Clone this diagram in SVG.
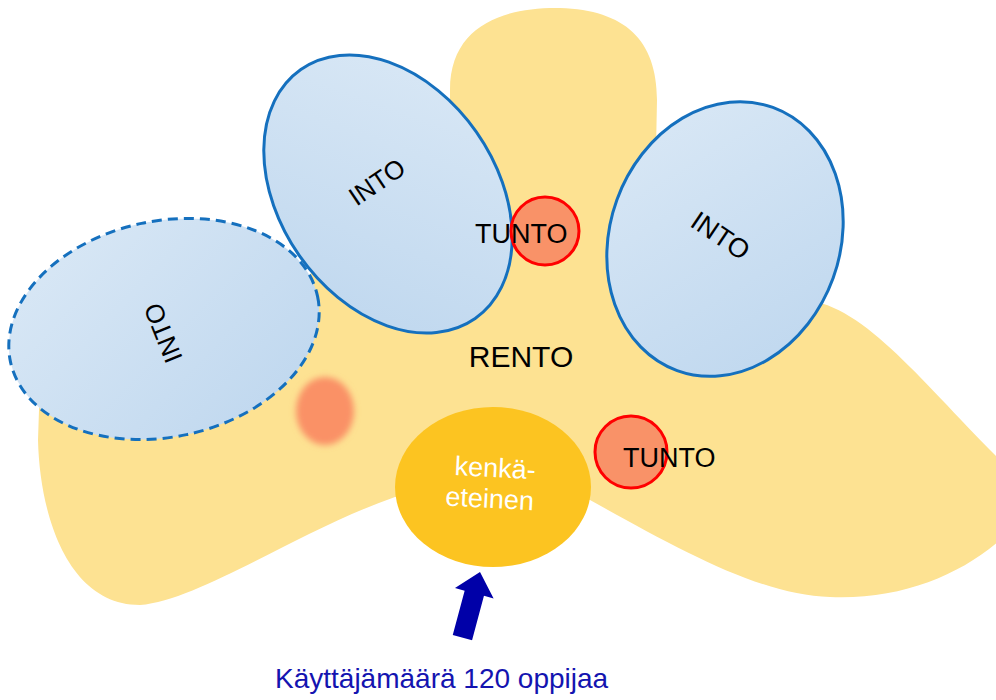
<svg xmlns="http://www.w3.org/2000/svg" width="996" height="700" viewBox="0 0 996 700">
  <defs>
    <linearGradient id="blueGrad" x1="0" y1="0" x2="1" y2="1">
      <stop offset="0" stop-color="#dbe9f6"/>
      <stop offset="1" stop-color="#bdd6ee"/>
    </linearGradient>
    <filter id="blur" x="-50%" y="-50%" width="200%" height="200%">
      <feGaussianBlur stdDeviation="3"/>
    </filter>
  </defs>
  <style>
    .into { fill: url(#blueGrad); stroke: #1570be; stroke-width: 3; }
    .dashed { stroke-dasharray: 10 6; }
    .tunto { fill: #f99268; stroke: #ff0000; stroke-width: 3; }
    .lbl { font-family: "Liberation Sans", Arial, sans-serif; fill: #000; }
    .white { font-family: "Liberation Sans", Arial, sans-serif; fill: #ffffff; }
  </style>
  <rect width="996" height="700" fill="#ffffff"/>

  <g id="rento-area">
    <path d="M 450 90 C 450 25 505 7 560 8 C 625 10 657 40 657 100 L 655 200 L 800 300 C 860 300 920 380 1000 460 L 1000 540 C 960 575 900 600 830 597 C 760 595 680 550 590 500 L 395 497 C 300 530 200 600 140 605 C 70 605 40 520 38 440 L 40 380 L 290 300 L 315 268 L 450 150 Z" fill="#fde292"/>
    <text class="lbl" x="521" y="367" font-size="30" text-anchor="middle">RENTO</text>
  </g>

  <g id="into-left">
    <ellipse class="into dashed" cx="164" cy="329" rx="157" ry="108" transform="rotate(-12 164 329)"/>
    <text class="lbl" x="163" y="342" font-size="26" text-anchor="middle" transform="rotate(-112 163 333)">INTO</text>
  </g>

  <g id="into-top">
    <ellipse class="into" cx="388" cy="194" rx="152" ry="108" transform="rotate(55 388 194)"/>
    <text class="lbl" x="377" y="191" font-size="26" text-anchor="middle" transform="rotate(-34 377 182)">INTO</text>
  </g>

  <g id="into-right">
    <ellipse class="into" cx="725" cy="239" rx="115" ry="140" transform="rotate(20 725 239)"/>
    <text class="lbl" x="721" y="245" font-size="27" text-anchor="middle" transform="rotate(34 721 235)">INTO</text>
  </g>

  <g id="tunto-top">
    <circle class="tunto" cx="545" cy="231" r="34"/>
    <text class="lbl" x="475" y="243" font-size="27">TUNTO</text>
  </g>

  <g id="tunto-bottom">
    <circle class="tunto" cx="631" cy="452" r="36"/>
    <text class="lbl" x="623" y="467" font-size="27">TUNTO</text>
  </g>

  <g id="blurred-spot">
    <ellipse cx="325" cy="411" rx="29" ry="34" fill="#fa9166" filter="url(#blur)"/>
  </g>

  <g id="kenka-eteinen">
    <ellipse cx="493" cy="487" rx="98" ry="80" fill="#fcc421"/>
    <g transform="rotate(3 492 492)">
      <text class="white" x="494" y="477" font-size="27" text-anchor="middle">kenkä-</text>
      <text class="white" x="490" y="508" font-size="27" text-anchor="middle">eteinen</text>
    </g>
  </g>

  <g id="connectors">
    <polygon points="0,0 20,22 10,22 10,68 -10,68 -10,22 -20,22" fill="#0000a8" transform="translate(480 572) rotate(15)"/>
  </g>

  <g id="caption">
    <text x="275" y="688" font-size="28" font-family="Liberation Sans, Arial, sans-serif" fill="#1414b0">Käyttäjämäärä 120 oppijaa</text>
  </g>
</svg>
